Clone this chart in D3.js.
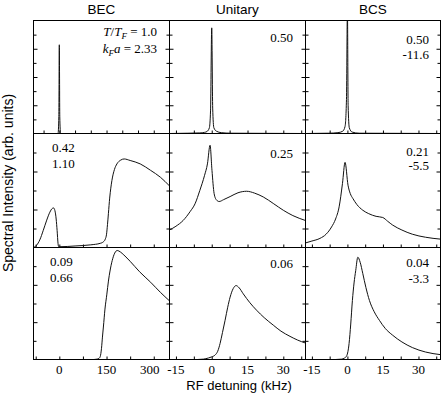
<!DOCTYPE html>
<html lang="en">
<head>
<meta charset="UTF-8">
<title>Spectral Intensity</title>
<style>
  body { margin: 0; background: #fff; }
  svg { display: block; }
  .serif { font-family: "Liberation Serif", "Times New Roman", serif; font-size: 13px; }
  .sans { font-family: "Liberation Sans", Arial, sans-serif; }
</style>
</head>
<body>
<svg id="chart" width="443" height="398"></svg>
<script src="https://d3js.org/d3.v7.min.js"></script>
<script>
// column titles, tick labels, axis ranges
var columns = ["BEC", "Unitary", "BCS"];
var xTickLabels = [[0, 150, 300], [-15, 0, 15, 30], [-15, 0, 15, 30]];
var xDomains = [[-82, 350], [-17.7, 39.3], [-17.7, 39.3]];
var yDomains = [[0, 4], [0, 3], [0, 3]];

// T/T_F and k_F a for each panel (row by row)
var tempLabels = [["1.0", "0.50", "0.50"], ["0.42", "0.25", "0.21"], ["0.09", "0.06", "0.04"]];
var couplingLabels = [["2.33", null, "-11.6"], ["1.10", null, "-5.5"], ["0.66", null, "-3.3"]];

// spectra: [detuning kHz, intensity]
var becHot = [[-82, 0], [-4, 0], [-1.5, 0.6], [0, 3.14], [1.5, 0.6], [4, 0], [350, 0]];
var uniHot = [[-17.7, 0], [-10, 0.01], [-5, 0.02], [-3, 0.04], [-2, 0.07], [-1, 0.2], [-0.5, 0.8],
  [0, 3.74], [0.4, 0.9], [0.9, 0.2], [2, 0.08], [4, 0.03], [8, 0.01], [39.3, 0]];
var bcsHot = [[-17.7, 0], [-8, 0.01], [-4, 0.03], [-2, 0.08], [-1, 0.25], [-0.4, 1.2], [0, 4.4],
  [0.3, 1.0], [0.8, 0.2], [2, 0.05], [5, 0.01], [39.3, 0]];

var becMid = [[-82, 0], [-72, 0.06], [-62, 0.2], [-51, 0.45], [-40, 0.72], [-30, 0.93], [-22, 1.03],
  [-18, 1.04], [-14, 0.97], [-10, 0.75], [-7, 0.45], [-4, 0.1], [-2, 0.02], [0, 0.02], [50, 0.04],
  [100, 0.07], [130, 0.11], [140, 0.15], [146, 0.22], [150, 0.35], [153, 0.6], [156, 0.9], [160, 1.3],
  [167, 1.76], [175, 2.05], [183, 2.2], [195, 2.3], [206, 2.33], [225, 2.29], [257, 2.2], [290, 2.03],
  [321, 1.85], [350, 1.62]];
var uniMid = [[-17.7, 0.46], [-15, 0.56], [-12, 0.71], [-9, 0.95], [-7, 1.15], [-5, 1.5], [-3, 1.9],
  [-1.8, 2.2], [-0.7, 2.69], [0.1, 2.03], [1, 1.42], [2, 1.25], [3.1, 1.21], [5, 1.26], [7.7, 1.34],
  [11, 1.44], [14.6, 1.48], [18, 1.43], [21.6, 1.33], [26, 1.15], [30, 0.98], [34, 0.84], [39.3, 0.71]];
var bcsMid = [[-17.7, 0.12], [-15, 0.17], [-11.6, 0.24], [-9, 0.35], [-6.7, 0.54], [-5, 0.75],
  [-3.5, 1.07], [-2.1, 1.68], [-1, 2.24], [0.25, 1.64], [1.2, 1.42], [2.3, 1.29], [4, 1.13], [6.5, 0.98],
  [9, 0.89], [12.1, 0.82], [14.9, 0.79], [17, 0.69], [19.1, 0.59], [23, 0.46], [27.4, 0.35], [33, 0.27],
  [39.3, 0.22]];

var becLow = [[-82, 0], [110, 0], [120, 0.01], [126, 0.03], [130, 0.08], [134, 0.3], [137, 0.6],
  [140, 0.87], [145, 1.35], [151, 1.75], [156, 2.1], [161, 2.37], [168, 2.65], [176, 2.85], [184, 2.92],
  [194, 2.88], [205, 2.8], [225, 2.63], [255, 2.35], [290, 2.07], [321, 1.8], [350, 1.57]];
var uniLow = [[-17.7, 0], [-6, 0], [-3.5, 0.01], [-1.4, 0.04], [0, 0.07], [1.4, 0.12], [2.5, 0.22],
  [3.5, 0.43], [4.5, 0.72], [5.6, 1.05], [6.7, 1.4], [7.7, 1.67], [9, 1.9], [10.2, 1.98], [11.5, 1.92],
  [13.2, 1.76], [16, 1.52], [18.8, 1.32], [22, 1.12], [25.8, 0.92], [29, 0.76], [32.8, 0.62], [36, 0.52],
  [39.3, 0.44]];
var bcsLow = [[-17.7, 0], [-5, 0], [-2.5, 0.01], [-1.2, 0.04], [-0.3, 0.1], [0.7, 0.43], [1.4, 0.95],
  [2.1, 1.58], [2.8, 2.05], [3.5, 2.38], [4.4, 2.74], [5.4, 2.6], [6.5, 2.3], [7.8, 1.93], [9.3, 1.58],
  [11.3, 1.28], [13.5, 1.05], [16, 0.83], [19.1, 0.65], [23, 0.47], [27.4, 0.32], [33, 0.2], [39.3, 0.13]];

var spectra = [[becHot, uniHot, bcsHot], [becMid, uniMid, bcsMid], [becLow, uniLow, bcsLow]];

var svg = d3.select("#chart");
var colX = [33.5, 169.5, 305.5, 440.5];
var rowY = [20.5, 133.5, 247.5, 359.5];

// where the numbers sit inside each panel
var labelPos = [
  [{x: 157, a: "end", y: [36, 53]}, {x: 293, a: "end", y: [42]}, {x: 429, a: "end", y: [44, 59]}],
  [{x: 52, a: "start", y: [152, 168]}, {x: 293, a: "end", y: [158]}, {x: 429, a: "end", y: [156, 170]}],
  [{x: 50, a: "start", y: [266, 282]}, {x: 293, a: "end", y: [268]}, {x: 429, a: "end", y: [267, 283]}]
];

var defs = svg.append("defs");

for (var r = 0; r < 3; r++) {
  for (var c = 0; c < 3; c++) {
    var x = d3.scaleLinear().domain(xDomains[c]).range([colX[c], colX[c + 1]]);
    var y = d3.scaleLinear().domain(yDomains[r]).range([rowY[r + 1], rowY[r]]);
    var g = svg.append("g");

    var id = "clip" + r + c;
    defs.append("clipPath").attr("id", id).append("rect")
      .attr("x", colX[c]).attr("y", rowY[r])
      .attr("width", colX[c + 1] - colX[c]).attr("height", rowY[r + 1] - rowY[r]);

    // x ticks (bottom, inward)
    var step = c == 0 ? (r == 0 ? 50 : 75) : 7.5;
    var first = c == 0 ? -step : -15;
    var xt = d3.range(first, xDomains[c][1] - 0.5, step);
    g.append("g").attr("transform", "translate(0," + rowY[r + 1] + ")")
      .call(d3.axisBottom(x).tickValues(xt).tickSize(-3).tickFormat(""))
      .call(function (s) { s.select(".domain").remove(); });

    // y ticks, left and right, inward
    var yMaj = d3.range(1, yDomains[r][1], 1);
    var yMin = d3.range(0.5, yDomains[r][1], 1);
    [[d3.axisLeft, colX[c]], [d3.axisRight, colX[c + 1]]].forEach(function (ax) {
      g.append("g").attr("transform", "translate(" + ax[1] + ",0)")
        .call(ax[0](y).tickValues(yMaj).tickSize(-4).tickFormat(""))
        .call(function (s) { s.select(".domain").remove(); });
      g.append("g").attr("transform", "translate(" + ax[1] + ",0)")
        .call(ax[0](y).tickValues(yMin).tickSize(-3).tickFormat(""))
        .call(function (s) { s.select(".domain").remove(); });
    });
    g.selectAll(".tick line").attr("stroke", "#000");

    // spectrum
    g.append("path")
      .datum(spectra[r][c])
      .attr("clip-path", "url(#" + id + ")")
      .attr("fill", "none")
      .attr("stroke", "#111")
      .attr("stroke-width", 1)
      .attr("d", d3.line().x(function (d) { return x(d[0]); }).y(function (d) { return y(d[1]); })
        .curve(d3.curveMonotoneX));

    // frame
    g.append("rect")
      .attr("x", colX[c]).attr("y", rowY[r])
      .attr("width", colX[c + 1] - colX[c]).attr("height", rowY[r + 1] - rowY[r])
      .attr("fill", "none").attr("stroke", "#000").attr("stroke-width", 1);

    // numbers
    var p = labelPos[r][c];
    if (r == 0 && c == 0) {
      var t1 = g.append("text").attr("class", "serif").attr("x", p.x).attr("y", p.y[0]).attr("text-anchor", p.a);
      t1.append("tspan").attr("font-style", "italic").text("T");
      t1.append("tspan").text("/");
      t1.append("tspan").attr("font-style", "italic").text("T");
      t1.append("tspan").attr("font-style", "italic").attr("font-size", "9px").attr("dy", 3).text("F");
      t1.append("tspan").attr("dy", -3).text(" = " + tempLabels[r][c]);
      var t2 = g.append("text").attr("class", "serif").attr("x", p.x).attr("y", p.y[1]).attr("text-anchor", p.a);
      t2.append("tspan").attr("font-style", "italic").text("k");
      t2.append("tspan").attr("font-style", "italic").attr("font-size", "9px").attr("dy", 3).text("F");
      t2.append("tspan").attr("font-style", "italic").attr("dy", -3).text("a");
      t2.append("tspan").text(" = " + couplingLabels[r][c]);
    } else {
      g.append("text").attr("class", "serif").attr("x", p.x).attr("y", p.y[0])
        .attr("text-anchor", p.a).text(tempLabels[r][c]);
      if (couplingLabels[r][c]) {
        g.append("text").attr("class", "serif").attr("x", p.x).attr("y", p.y[1])
          .attr("text-anchor", p.a).text(couplingLabels[r][c]);
      }
    }

    // tick labels on the bottom row
    if (r == 2) {
      g.selectAll("text.tl").data(xTickLabels[c]).join("text")
        .attr("class", "serif tl")
        .attr("x", function (d) { return x(d) - (c == 0 && d == 300 ? 4 : 0); })
        .attr("y", 374)
        .attr("text-anchor", "middle")
        .text(function (d) { return String(d); });
    }
  }
}

// column titles
svg.selectAll("text.col").data(columns).join("text")
  .attr("class", "sans col")
  .attr("x", function (d, i) { return (colX[i] + colX[i + 1]) / 2; })
  .attr("y", 14)
  .attr("text-anchor", "middle")
  .attr("font-size", "13.5px")
  .text(function (d) { return d; });

svg.append("text").attr("class", "sans")
  .attr("x", 239).attr("y", 390)
  .attr("text-anchor", "middle").attr("font-size", "13px")
  .text("RF detuning (kHz)");

svg.append("text").attr("class", "sans")
  .attr("transform", "translate(12.5,183) rotate(-90)")
  .attr("text-anchor", "middle").attr("font-size", "14px")
  .text("Spectral Intensity (arb. units)");
</script>
</body>
</html>
